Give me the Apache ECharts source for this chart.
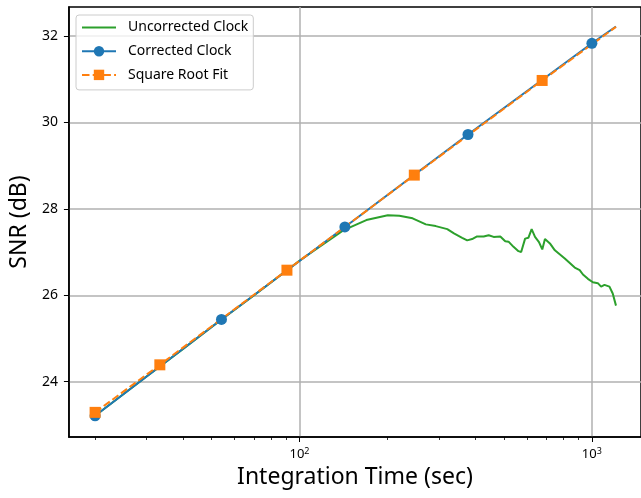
<!DOCTYPE html>
<html>
<head>
<meta charset="utf-8">
<script src="https://cdn.jsdelivr.net/npm/echarts@6/dist/echarts.min.js"></script>
<style>html,body{margin:0;padding:0;background:#fff;}#c{width:641px;height:498px;}</style>
</head>
<body>
<div id="c"></div>
<script>
// ---- data (integration time in seconds, SNR in dB) ----
const uncorrectedTime = [20, 30, 40, 54.1, 70, 100.5, 141.1, 169.3, 200.5, 219.6, 243.7, 270.5, 292.5, 320.3, 337.5, 360.1, 374.6, 389.4, 404.9, 426.7, 443.7, 461.4, 486.2, 505.5, 518.8, 539.5, 561.0, 573.0, 591.1, 606.5, 622.3, 639.1, 659.3, 676.6, 691.1, 718.6, 747.2, 807.9, 873.7, 908.5, 932.1, 969.2, 1007.9, 1048, 1075.3, 1104.4, 1148.4, 1178.4, 1209.2];
const uncorrectedSNR = [23.21, 24.12, 24.76, 25.44, 26.00, 26.81, 27.50, 27.74, 27.85, 27.84, 27.78, 27.64, 27.60, 27.53, 27.43, 27.33, 27.27, 27.30, 27.36, 27.36, 27.39, 27.35, 27.36, 27.25, 27.24, 27.12, 27.02, 27.00, 27.31, 27.33, 27.53, 27.35, 27.23, 27.06, 27.30, 27.20, 27.04, 26.85, 26.64, 26.58, 26.48, 26.38, 26.30, 26.28, 26.20, 26.24, 26.20, 26.04, 25.76];
const correctedTime = [20, 54.1, 143, 377, 1000, 1209];
const correctedSNR = [23.21, 25.44, 27.58, 29.72, 31.83, 32.22];
const fitTime = [20, 33.3, 90.6, 247, 676, 1209];
const fitSNR = [23.29, 24.39, 26.58, 28.78, 30.97, 32.21];
const yTicks = [24, 26, 28, 30, 32];
const xMajorExp = [2, 3];
const xMinor = [20, 30, 40, 50, 60, 70, 80, 90, 200, 300, 400, 500, 600, 700, 800, 900];
const seriesNames = ['Uncorrected Clock', 'Corrected Clock', 'Square Root Fit'];

const FONT = '"Noto Sans", "Open Sans", sans-serif';
const lg = Math.log10;

function pts(ts, vs, lastNoMarker) {
  return ts.map((t, i) => {
    const item = { value: [lg(t), vs[i]] };
    if (lastNoMarker && i === ts.length - 1) item.symbol = 'none';
    return item;
  });
}

const xMin = 1.2115, xMax = 3.168;
const chart = echarts.init(document.getElementById('c'), null, { renderer: 'canvas' });
chart.setOption({
  animation: false,
  backgroundColor: '#ffffff',
  textStyle: { fontFamily: FONT },
  grid: { left: 67, top: 7, width: 577, height: 430, show: true, borderColor: '#000', borderWidth: 1.5, backgroundColor: 'transparent' },
  legend: {
    left: 76, top: 15, orient: 'vertical',
    itemWidth: 34, itemHeight: 13, itemGap: 9.7,
    padding: [5.5, 5, 8, 5],
    backgroundColor: 'rgba(255,255,255,0.8)',
    borderColor: '#cccccc', borderWidth: 1, borderRadius: 3,
    textStyle: { fontFamily: FONT, fontSize: 14, color: '#000', padding: [0, 0, 0, 7] },
    data: [
      { name: seriesNames[0], itemStyle: { opacity: 0 } },
      seriesNames[1],
      seriesNames[2]
    ]
  },
  xAxis: [{
    type: 'value', min: xMin, max: xMax, position: 'bottom',
    name: 'Integration Time (sec)', nameLocation: 'middle', nameGap: 27,
    nameTextStyle: { fontFamily: FONT, fontSize: 23, color: '#000' },
    axisLine: { show: true, onZero: false, lineStyle: { color: '#000', width: 1.5 } },
    axisTick: { show: true, length: 5, lineStyle: { color: '#000', width: 1 }, customValues: xMajorExp },
    axisLabel: {
      customValues: xMajorExp, margin: 10, color: '#000', fontFamily: FONT, fontSize: 13,
      formatter: v => '10{s|' + Math.round(v) + '}',
      rich: { s: { fontSize: 9, fontFamily: FONT, color: '#000', verticalAlign: 'top', padding: [0, 0, 6, 0] } }
    },
    splitLine: { show: true, lineStyle: { color: '#b0b0b0', width: 1.5 } }
  }, {
    type: 'value', min: xMin, max: xMax, position: 'bottom', offset: 0,
    axisLine: { show: false },
    axisTick: { show: true, length: 3, lineStyle: { color: '#000', width: 0.8 }, customValues: xMinor.map(lg) },
    axisLabel: { show: false },
    splitLine: { show: false }
  }],
  yAxis: {
    type: 'value', min: 22.72, max: 32.67,
    name: 'SNR (dB)', nameLocation: 'middle', nameGap: 34,
    nameTextStyle: { fontFamily: FONT, fontSize: 23, color: '#000' },
    axisLine: { show: true, onZero: false, lineStyle: { color: '#000', width: 1.5 } },
    axisTick: { show: true, length: 5, lineStyle: { color: '#000', width: 1 }, customValues: yTicks },
    axisLabel: { customValues: yTicks, margin: 11, color: '#000', fontFamily: FONT, fontSize: 14 },
    splitLine: { show: true, lineStyle: { color: '#b0b0b0', width: 1.5 } }
  },
  series: [{
    name: seriesNames[0], type: 'line', xAxisIndex: 0,
    data: pts(uncorrectedTime, uncorrectedSNR, false),
    symbol: 'none', color: '#2ca02c',
    lineStyle: { width: 2, color: '#2ca02c' }
  }, {
    name: seriesNames[1], type: 'line', xAxisIndex: 0,
    data: pts(correctedTime, correctedSNR, true),
    symbol: 'circle', symbolSize: 11, showAllSymbol: true, color: '#1f77b4',
    itemStyle: { color: '#1f77b4' },
    lineStyle: { width: 2, color: '#1f77b4' }
  }, {
    name: seriesNames[2], type: 'line', xAxisIndex: 0,
    data: pts(fitTime, fitSNR, true),
    symbol: 'rect', symbolSize: 11, showAllSymbol: true, color: '#ff7f0e',
    itemStyle: { color: '#ff7f0e' },
    lineStyle: { width: 2, color: '#ff7f0e', type: [7.5, 3.2] }
  }]
});
</script>
</body>
</html>
